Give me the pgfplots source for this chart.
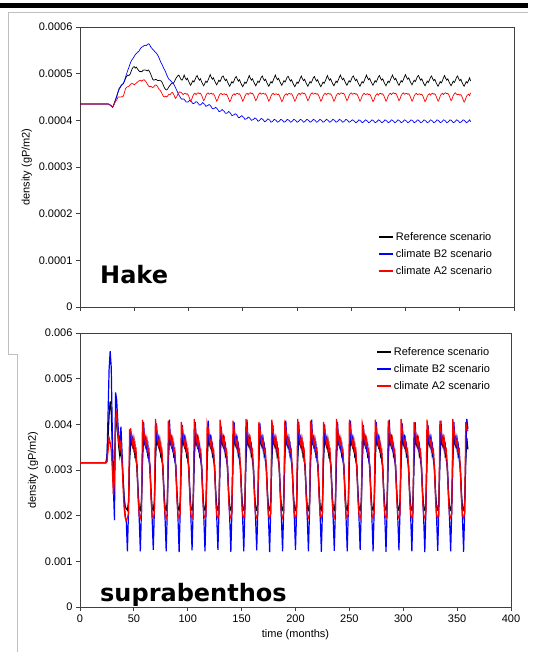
\documentclass[border=0pt]{standalone}
\usepackage{fontspec}
\setmainfont{Liberation Sans}
\newfontfamily\bigfont{DejaVu Sans}
\usepackage{pgfplots}
\usepackage{pgfplotstable}
\pgfplotsset{compat=1.18}

% Hake density, monthly, in units of 1e-4 gP/m2
\pgfplotstableread{
t ref b2 a2
0 4.35 4.35 4.35
26 4.35 4.35 4.35
27 4.34 4.34 4.34
28 4.32 4.33 4.32
29 4.30 4.31 4.30
30 4.28 4.28 4.28
31 4.33 4.32 4.32
32 4.40 4.38 4.37
33 4.46 4.45 4.42
34 4.53 4.52 4.44
35 4.60 4.60 4.50
36 4.68 4.66 4.50
37 4.71 4.70 4.50
38 4.75 4.74 4.50
39 4.77 4.77 4.51
40 4.79 4.79 4.52
41 4.84 4.85 4.60
42 4.90 4.93 4.68
43 4.94 5.00 4.71
44 4.97 5.07 4.72
45 4.96 5.13 4.73
46 4.98 5.20 4.76
47 5.04 5.26 4.78
48 5.10 5.30 4.79
49 5.14 5.33 4.78
50 5.15 5.37 4.76
51 5.12 5.41 4.78
52 5.14 5.43 4.80
53 5.10 5.46 4.82
54 5.07 5.47 4.84
55 5.04 5.51 4.85
56 5.05 5.55 4.86
57 5.04 5.57 4.84
58 5.07 5.58 4.86
59 5.08 5.60 4.87
60 5.08 5.61 4.85
61 5.07 5.60 4.82
62 5.06 5.62 4.78
63 5.08 5.64 4.74
64 5.05 5.63 4.72
65 5.00 5.58 4.73
66 4.94 5.55 4.72
67 4.88 5.52 4.70
68 4.86 5.50 4.72
69 4.87 5.47 4.75
70 4.88 5.45 4.76
71 4.86 5.42 4.74
72 4.85 5.38 4.70
73 4.86 5.33 4.66
74 4.85 5.27 4.64
75 4.84 5.22 4.60
76 4.80 5.18 4.55
77 4.74 5.12 4.51
78 4.69 5.08 4.50
79 4.66 5.03 4.52
80 4.65 4.97 4.50
81 4.68 4.92 4.53
82 4.72 4.88 4.56
83 4.75 4.86 4.55
84 4.78 4.84 4.58
85 4.80 4.81 4.60
86 4.79 4.79 4.57
87 4.83 4.75 4.52
88 4.88 4.70 4.47
89 4.92 4.65 4.50
90 4.95 4.60 4.55
91 4.97 4.55 4.59
92 4.93 4.51 4.61
93 4.88 4.47 4.60
94 4.86 4.45 4.58
95 4.90 4.46 4.55
96 4.97 4.45 4.57
97 4.91 4.42 4.58
98 4.87 4.39 4.56
99 4.90 4.39 4.57
100 4.84 4.40 4.53
101 4.79 4.43 4.47
102 4.75 4.42 4.41
103 4.80 4.39 4.45
104 4.85 4.36 4.52
105 4.82 4.36 4.56
106 4.87 4.38 4.58
107 4.93 4.40 4.55
108 4.96 4.39 4.58
109 4.90 4.36 4.59
110 4.86 4.33 4.57
111 4.89 4.33 4.58
112 4.83 4.35 4.54
113 4.78 4.38 4.48
114 4.74 4.36 4.42
115 4.79 4.34 4.46
116 4.84 4.30 4.53
117 4.81 4.31 4.57
118 4.86 4.32 4.59
119 4.92 4.34 4.56
120 4.98 4.32 4.57
121 4.92 4.29 4.58
122 4.88 4.25 4.56
123 4.91 4.25 4.57
124 4.85 4.26 4.53
125 4.80 4.28 4.47
126 4.76 4.26 4.41
127 4.81 4.23 4.45
128 4.86 4.19 4.52
129 4.83 4.19 4.56
130 4.88 4.21 4.58
131 4.94 4.23 4.55
132 4.95 4.21 4.56
133 4.89 4.19 4.57
134 4.85 4.15 4.55
135 4.88 4.15 4.56
136 4.82 4.16 4.52
137 4.77 4.19 4.46
138 4.73 4.17 4.40
139 4.78 4.14 4.44
140 4.83 4.10 4.51
141 4.80 4.11 4.55
142 4.85 4.12 4.57
143 4.91 4.14 4.54
144 4.94 4.13 4.57
145 4.88 4.10 4.58
146 4.84 4.06 4.56
147 4.87 4.06 4.57
148 4.81 4.08 4.53
149 4.76 4.10 4.47
150 4.72 4.08 4.41
151 4.77 4.06 4.45
152 4.82 4.02 4.52
153 4.79 4.03 4.56
154 4.84 4.04 4.58
155 4.90 4.07 4.55
156 4.96 4.06 4.58
157 4.90 4.03 4.59
158 4.86 4.00 4.57
159 4.89 4.01 4.58
160 4.83 4.02 4.54
161 4.78 4.05 4.48
162 4.74 4.04 4.42
163 4.79 4.02 4.46
164 4.84 3.98 4.53
165 4.81 3.99 4.57
166 4.86 4.01 4.59
167 4.92 4.04 4.56
168 4.95 4.03 4.57
169 4.89 4.01 4.58
170 4.85 3.97 4.56
171 4.88 3.98 4.57
172 4.82 4.00 4.53
173 4.77 4.03 4.47
174 4.73 4.02 4.41
175 4.78 4.00 4.45
176 4.83 3.96 4.52
177 4.80 3.97 4.56
178 4.85 3.99 4.58
179 4.91 4.02 4.55
180 4.97 4.01 4.56
181 4.91 3.99 4.57
182 4.87 3.96 4.55
183 4.90 3.97 4.56
184 4.84 3.99 4.52
185 4.79 4.02 4.46
186 4.75 4.01 4.40
187 4.80 3.99 4.44
188 4.85 3.96 4.51
189 4.82 3.97 4.55
190 4.87 3.99 4.57
191 4.93 4.02 4.54
192 4.94 4.01 4.57
193 4.88 3.99 4.58
194 4.84 3.96 4.56
195 4.87 3.97 4.57
196 4.81 3.99 4.53
197 4.76 4.02 4.47
198 4.72 4.01 4.41
199 4.77 3.99 4.45
200 4.82 3.96 4.52
201 4.79 3.97 4.56
202 4.84 3.99 4.58
203 4.90 4.02 4.55
204 4.95 4.01 4.58
205 4.89 3.99 4.59
206 4.85 3.96 4.57
207 4.88 3.97 4.58
208 4.82 3.99 4.54
209 4.77 4.02 4.48
210 4.73 4.01 4.42
211 4.78 3.99 4.46
212 4.83 3.96 4.53
213 4.80 3.97 4.57
214 4.85 3.99 4.59
215 4.91 4.02 4.56
216 4.94 4.01 4.57
217 4.88 3.99 4.58
218 4.84 3.96 4.56
219 4.87 3.97 4.57
220 4.81 3.99 4.53
221 4.76 4.02 4.47
222 4.72 4.01 4.41
223 4.77 3.99 4.45
224 4.82 3.96 4.52
225 4.79 3.97 4.56
226 4.84 3.99 4.58
227 4.90 4.02 4.55
228 4.96 4.01 4.57
229 4.90 3.99 4.58
230 4.86 3.96 4.56
231 4.89 3.97 4.57
232 4.83 3.99 4.53
233 4.78 4.02 4.47
234 4.74 4.01 4.41
235 4.79 3.99 4.45
236 4.84 3.96 4.52
237 4.81 3.97 4.56
238 4.86 3.99 4.58
239 4.92 4.02 4.55
240 4.97 4.01 4.58
241 4.91 3.99 4.59
242 4.87 3.96 4.57
243 4.90 3.97 4.58
244 4.84 3.99 4.54
245 4.79 4.02 4.48
246 4.75 4.01 4.42
247 4.80 3.99 4.46
248 4.85 3.96 4.53
249 4.82 3.97 4.57
250 4.87 3.99 4.59
251 4.93 4.01 4.56
252 4.95 4.00 4.57
253 4.89 3.98 4.58
254 4.85 3.95 4.56
255 4.88 3.96 4.57
256 4.82 3.98 4.53
257 4.77 4.01 4.47
258 4.73 4.00 4.41
259 4.78 3.98 4.45
260 4.83 3.95 4.52
261 4.80 3.96 4.56
262 4.85 3.98 4.58
263 4.91 4.01 4.55
264 4.97 4.00 4.56
265 4.91 3.98 4.57
266 4.87 3.95 4.55
267 4.90 3.96 4.56
268 4.84 3.98 4.52
269 4.79 4.01 4.46
270 4.75 4.00 4.40
271 4.80 3.98 4.44
272 4.85 3.95 4.51
273 4.82 3.96 4.55
274 4.87 3.98 4.57
275 4.93 4.01 4.54
276 4.96 4.00 4.57
277 4.90 3.98 4.58
278 4.86 3.95 4.56
279 4.89 3.96 4.57
280 4.83 3.98 4.53
281 4.78 4.01 4.47
282 4.74 4.00 4.41
283 4.79 3.98 4.45
284 4.84 3.95 4.52
285 4.81 3.96 4.56
286 4.86 3.98 4.58
287 4.92 4.01 4.55
288 4.97 4.00 4.58
289 4.91 3.98 4.59
290 4.87 3.95 4.57
291 4.90 3.96 4.58
292 4.84 3.98 4.54
293 4.79 4.01 4.48
294 4.75 4.00 4.42
295 4.80 3.98 4.46
296 4.85 3.95 4.53
297 4.82 3.96 4.57
298 4.87 3.98 4.59
299 4.93 4.01 4.56
300 4.98 4.00 4.57
301 4.92 3.98 4.58
302 4.88 3.95 4.56
303 4.91 3.96 4.57
304 4.85 3.98 4.53
305 4.80 4.01 4.47
306 4.76 4.00 4.41
307 4.81 3.98 4.45
308 4.86 3.95 4.52
309 4.83 3.96 4.56
310 4.88 3.98 4.58
311 4.94 4.01 4.55
312 4.96 4.00 4.56
313 4.90 3.98 4.57
314 4.86 3.95 4.55
315 4.89 3.96 4.56
316 4.83 3.98 4.52
317 4.78 4.01 4.46
318 4.74 4.00 4.40
319 4.79 3.98 4.44
320 4.84 3.95 4.51
321 4.81 3.96 4.55
322 4.86 3.98 4.57
323 4.92 4.01 4.54
324 4.95 4.00 4.57
325 4.89 3.98 4.58
326 4.85 3.95 4.56
327 4.88 3.96 4.57
328 4.82 3.98 4.53
329 4.77 4.01 4.47
330 4.73 4.00 4.41
331 4.78 3.98 4.45
332 4.83 3.95 4.52
333 4.80 3.96 4.56
334 4.85 3.98 4.58
335 4.91 4.01 4.55
336 4.96 4.00 4.58
337 4.90 3.98 4.59
338 4.86 3.95 4.57
339 4.89 3.96 4.58
340 4.83 3.98 4.54
341 4.78 4.01 4.48
342 4.74 4.00 4.42
343 4.79 3.98 4.46
344 4.84 3.95 4.53
345 4.81 3.96 4.57
346 4.86 3.98 4.59
347 4.92 4.01 4.56
348 4.95 4.00 4.55
349 4.89 3.98 4.56
350 4.85 3.95 4.54
351 4.88 3.96 4.55
352 4.82 3.98 4.51
353 4.77 4.01 4.45
354 4.73 4.00 4.39
355 4.78 3.98 4.43
356 4.83 3.95 4.50
357 4.80 3.96 4.54
358 4.85 3.98 4.56
359 4.91 4.01 4.53
360 4.84 3.97 4.59
}\hake

% suprabenthos density, monthly, in units of 1e-3 gP/m2
\pgfplotstableread{
t ref b2 a2
0 3.16 3.16 3.16
24 3.16 3.16 3.16
25 3.30 3.20 3.18
26 3.70 4.20 3.40
27 4.20 5.20 3.70
28 4.50 5.60 3.60
29 4.30 5.25 3.45
30 3.50 3.80 3.00
31 2.90 2.60 2.45
32 3.10 1.90 2.80
33 3.95 4.70 4.10
34 4.05 4.55 4.30
35 3.80 4.10 3.85
36 3.50 3.70 3.60
37 3.30 3.60 3.45
38 3.45 3.95 3.65
39 3.20 3.40 3.20
40 2.80 2.80 2.60
41 2.40 2.30 2.15
42 2.20 2.00 1.95
43 2.15 1.85 1.90
44 2.12 1.22 1.95
45 2.30 2.10 2.05
46 3.20 3.30 3.88
47 3.60 3.85 3.90
48 3.58 3.62 3.72
49 3.50 3.72 3.55
50 3.62 3.45 3.68
51 3.30 3.55 3.40
52 3.35 3.20 3.45
53 2.95 3.10 3.00
54 2.50 2.45 2.35
55 2.15 1.90 2.00
56 2.12 1.22 1.95
57 2.30 2.10 2.05
58 3.20 3.30 4.10
59 3.72 4.05 3.90
60 3.58 3.62 3.72
61 3.50 3.72 3.55
62 3.62 3.45 3.68
63 3.30 3.55 3.40
64 3.35 3.20 3.45
65 2.95 3.10 3.00
66 2.50 2.45 2.35
67 2.15 1.90 2.00
68 2.12 1.25 1.95
69 2.30 2.10 2.05
70 3.20 3.30 4.12
71 3.70 4.02 3.90
72 3.58 3.62 3.72
73 3.50 3.72 3.55
74 3.62 3.45 3.68
75 3.30 3.55 3.40
76 3.35 3.20 3.45
77 2.95 3.10 3.00
78 2.50 2.45 2.35
79 2.15 1.90 2.00
80 2.12 1.22 1.95
81 2.30 2.10 2.05
82 3.20 3.30 4.08
83 3.68 4.10 3.90
84 3.58 3.62 3.72
85 3.50 3.72 3.55
86 3.62 3.45 3.68
87 3.30 3.55 3.40
88 3.35 3.20 3.45
89 2.95 3.10 3.00
90 2.50 2.45 2.35
91 2.15 1.90 2.00
92 2.12 1.20 1.95
93 2.30 2.10 2.05
94 3.20 3.30 4.05
95 3.72 3.98 3.90
96 3.58 3.62 3.72
97 3.50 3.72 3.55
98 3.62 3.45 3.68
99 3.30 3.55 3.40
100 3.35 3.20 3.45
101 2.95 3.10 3.00
102 2.50 2.45 2.35
103 2.15 1.90 2.00
104 2.12 1.24 1.95
105 2.30 2.10 2.05
106 3.20 3.30 4.12
107 3.70 4.05 3.90
108 3.58 3.62 3.72
109 3.50 3.72 3.55
110 3.62 3.45 3.68
111 3.30 3.55 3.40
112 3.35 3.20 3.45
113 2.95 3.10 3.00
114 2.50 2.45 2.35
115 2.15 1.90 2.00
116 2.12 1.22 1.95
117 2.30 2.10 2.05
118 3.20 3.30 4.02
119 3.65 4.08 3.90
120 3.58 3.62 3.72
121 3.50 3.72 3.55
122 3.62 3.45 3.68
123 3.30 3.55 3.40
124 3.35 3.20 3.45
125 2.95 3.10 3.00
126 2.50 2.45 2.35
127 2.15 1.90 2.00
128 2.12 1.25 1.95
129 2.30 2.10 2.05
130 3.20 3.30 4.10
131 3.72 3.95 3.90
132 3.58 3.62 3.72
133 3.50 3.72 3.55
134 3.62 3.45 3.68
135 3.30 3.55 3.40
136 3.35 3.20 3.45
137 2.95 3.10 3.00
138 2.50 2.45 2.35
139 2.15 1.90 2.00
140 2.12 1.21 1.95
141 2.30 2.10 2.05
142 3.20 3.30 4.08
143 3.70 4.05 3.90
144 3.58 3.62 3.72
145 3.50 3.72 3.55
146 3.62 3.45 3.68
147 3.30 3.55 3.40
148 3.35 3.20 3.45
149 2.95 3.10 3.00
150 2.50 2.45 2.35
151 2.15 1.90 2.00
152 2.12 1.22 1.95
153 2.30 2.10 2.05
154 3.20 3.30 4.12
155 3.68 4.10 3.90
156 3.58 3.62 3.72
157 3.50 3.72 3.55
158 3.62 3.45 3.68
159 3.30 3.55 3.40
160 3.35 3.20 3.45
161 2.95 3.10 3.00
162 2.50 2.45 2.35
163 2.15 1.90 2.00
164 2.12 1.24 1.95
165 2.30 2.10 2.05
166 3.20 3.30 4.05
167 3.72 4.02 3.90
168 3.58 3.62 3.72
169 3.50 3.72 3.55
170 3.62 3.45 3.68
171 3.30 3.55 3.40
172 3.35 3.20 3.45
173 2.95 3.10 3.00
174 2.50 2.45 2.35
175 2.15 1.90 2.00
176 2.12 1.20 1.95
177 2.30 2.10 2.05
178 3.20 3.30 4.10
179 3.66 3.98 3.90
180 3.58 3.62 3.72
181 3.50 3.72 3.55
182 3.62 3.45 3.68
183 3.30 3.55 3.40
184 3.35 3.20 3.45
185 2.95 3.10 3.00
186 2.50 2.45 2.35
187 2.15 1.90 2.00
188 2.12 1.22 1.95
189 2.30 2.10 2.05
190 3.20 3.30 4.00
191 3.70 4.08 3.90
192 3.58 3.62 3.72
193 3.50 3.72 3.55
194 3.62 3.45 3.68
195 3.30 3.55 3.40
196 3.35 3.20 3.45
197 2.95 3.10 3.00
198 2.50 2.45 2.35
199 2.15 1.90 2.00
200 2.12 1.25 1.95
201 2.30 2.10 2.05
202 3.20 3.30 4.12
203 3.72 4.05 3.90
204 3.58 3.62 3.72
205 3.50 3.72 3.55
206 3.62 3.45 3.68
207 3.30 3.55 3.40
208 3.35 3.20 3.45
209 2.95 3.10 3.00
210 2.50 2.45 2.35
211 2.15 1.90 2.00
212 2.12 1.22 1.95
213 2.30 2.10 2.05
214 3.20 3.30 4.08
215 3.68 4.10 3.90
216 3.58 3.62 3.72
217 3.50 3.72 3.55
218 3.62 3.45 3.68
219 3.30 3.55 3.40
220 3.35 3.20 3.45
221 2.95 3.10 3.00
222 2.50 2.45 2.35
223 2.15 1.90 2.00
224 2.12 1.21 1.95
225 2.30 2.10 2.05
226 3.20 3.30 4.05
227 3.70 4.00 3.90
228 3.58 3.62 3.72
229 3.50 3.72 3.55
230 3.62 3.45 3.68
231 3.30 3.55 3.40
232 3.35 3.20 3.45
233 2.95 3.10 3.00
234 2.50 2.45 2.35
235 2.15 1.90 2.00
236 2.12 1.23 1.95
237 2.30 2.10 2.05
238 3.20 3.30 4.12
239 3.72 4.05 3.90
240 3.58 3.62 3.72
241 3.50 3.72 3.55
242 3.62 3.45 3.68
243 3.30 3.55 3.40
244 3.35 3.20 3.45
245 2.95 3.10 3.00
246 2.50 2.45 2.35
247 2.15 1.90 2.00
248 2.12 1.22 1.95
249 2.30 2.10 2.05
250 3.20 3.30 4.10
251 3.65 4.08 3.90
252 3.58 3.62 3.72
253 3.50 3.72 3.55
254 3.62 3.45 3.68
255 3.30 3.55 3.40
256 3.35 3.20 3.45
257 2.95 3.10 3.00
258 2.50 2.45 2.35
259 2.15 1.90 2.00
260 2.12 1.25 1.95
261 2.30 2.10 2.05
262 3.20 3.30 4.02
263 3.70 3.98 3.90
264 3.58 3.62 3.72
265 3.50 3.72 3.55
266 3.62 3.45 3.68
267 3.30 3.55 3.40
268 3.35 3.20 3.45
269 2.95 3.10 3.00
270 2.50 2.45 2.35
271 2.15 1.90 2.00
272 2.12 1.22 1.95
273 2.30 2.10 2.05
274 3.20 3.30 4.10
275 3.72 4.05 3.90
276 3.58 3.62 3.72
277 3.50 3.72 3.55
278 3.62 3.45 3.68
279 3.30 3.55 3.40
280 3.35 3.20 3.45
281 2.95 3.10 3.00
282 2.50 2.45 2.35
283 2.15 1.90 2.00
284 2.12 1.21 1.95
285 2.30 2.10 2.05
286 3.20 3.30 4.08
287 3.68 4.10 3.90
288 3.58 3.62 3.72
289 3.50 3.72 3.55
290 3.62 3.45 3.68
291 3.30 3.55 3.40
292 3.35 3.20 3.45
293 2.95 3.10 3.00
294 2.50 2.45 2.35
295 2.15 1.90 2.00
296 2.12 1.24 1.95
297 2.30 2.10 2.05
298 3.20 3.30 4.12
299 3.70 4.02 3.90
300 3.58 3.62 3.72
301 3.50 3.72 3.55
302 3.62 3.45 3.68
303 3.30 3.55 3.40
304 3.35 3.20 3.45
305 2.95 3.10 3.00
306 2.50 2.45 2.35
307 2.15 1.90 2.00
308 2.12 1.22 1.95
309 2.30 2.10 2.05
310 3.20 3.30 4.05
311 3.72 4.05 3.90
312 3.58 3.62 3.72
313 3.50 3.72 3.55
314 3.62 3.45 3.68
315 3.30 3.55 3.40
316 3.35 3.20 3.45
317 2.95 3.10 3.00
318 2.50 2.45 2.35
319 2.15 1.90 2.00
320 2.12 1.20 1.95
321 2.30 2.10 2.05
322 3.20 3.30 4.10
323 3.66 3.98 3.90
324 3.58 3.62 3.72
325 3.50 3.72 3.55
326 3.62 3.45 3.68
327 3.30 3.55 3.40
328 3.35 3.20 3.45
329 2.95 3.10 3.00
330 2.50 2.45 2.35
331 2.15 1.90 2.00
332 2.12 1.23 1.95
333 2.30 2.10 2.05
334 3.20 3.30 4.08
335 3.70 4.08 3.90
336 3.58 3.62 3.72
337 3.50 3.72 3.55
338 3.62 3.45 3.68
339 3.30 3.55 3.40
340 3.35 3.20 3.45
341 2.95 3.10 3.00
342 2.50 2.45 2.35
343 2.15 1.90 2.00
344 2.12 1.22 1.95
345 2.30 2.10 2.05
346 3.20 3.30 4.12
347 3.72 4.05 3.90
348 3.58 3.62 3.72
349 3.50 3.72 3.55
350 3.62 3.45 3.68
351 3.30 3.55 3.40
352 3.35 3.20 3.45
353 2.95 3.10 3.00
354 2.50 2.45 2.35
355 2.15 1.90 2.00
356 2.12 1.21 1.95
357 2.30 2.10 2.05
358 3.20 3.30 4.05
359 3.70 4.12 3.90
360 3.45 3.90 3.85
}\supra

\pgfplotsset{
  panel/.style={
    scale only axis, anchor=south west,
    xmin=0, xmax=400, ymin=0, ymax=6,
    xtick={0,50,...,400}, ytick={0,1,...,6},
    tick align=outside, xtick pos=lower, ytick pos=left,
    major tick length=4pt,
    axis line style={black!75, line width=0.8pt},
    every tick/.style={black!75, line width=0.8pt},
    /pgf/number format/assume math mode=true,
    tick label style={font=\fontsize{11}{13}\selectfont},
    label style={font=\fontsize{11}{13}\selectfont},
    ylabel={density (gP/m2)},
    legend style={draw=none, fill=none, anchor=north west, inner sep=0pt,
      row sep=3.5pt, font=\fontsize{11}{13}\selectfont},
    legend cell align=left,
    legend image code/.code={\draw[line width=1.6pt] (0pt,0pt) -- (14pt,0pt);},
  },
}

\begin{document}
\begin{tikzpicture}[x=1pt, y=1pt]
\useasboundingbox (0,0) rectangle (541,652);
% frame pieces of the pasted figure
\fill[black] (0,644) rectangle (528,648.5);
\draw[black!25, line width=0.8pt] (528,640) -- (8,640) -- (8,298) -- (17,298) -- (17,0);

% ---- Hake ----
\begin{axis}[panel, at={(80pt,345pt)}, width=434pt, height=280pt,
  xticklabels={}, yticklabels={0,0.0001,0.0002,0.0003,0.0004,0.0005,0.0006},
  legend style={at={(0.687,0.275)}}]
\addplot[color=black, line width=0.7pt] table[x=t, y=ref] {\hake};
\addplot[color=blue, line width=0.7pt] table[x=t, y=b2] {\hake};
\addplot[color=red, line width=0.7pt] table[x=t, y=a2] {\hake};
\legend{Reference scenario, climate B2 scenario, climate A2 scenario}
\end{axis}

% ---- suprabenthos ----
\begin{axis}[panel, at={(80pt,45pt)}, width=431pt, height=274pt,
  yticklabels={0,0.001,0.002,0.003,0.004,0.005,0.006},
  xlabel={time (months)},
  legend style={at={(0.687,0.955)}}]
\addplot[color=black, line width=1.2pt] table[x=t, y=ref] {\supra};
\addplot[color=blue, line width=1.2pt] table[x=t, y=b2] {\supra};
\addplot[color=red, line width=1.2pt] table[x=t, y=a2] {\supra};
\legend{Reference scenario, climate B2 scenario, climate A2 scenario}
\end{axis}

\node[anchor=base west, inner sep=0pt, font=\bigfont\bfseries\fontsize{24}{28}\selectfont] at (100,368) {Hake};
\node[anchor=base west, inner sep=0pt, font=\bigfont\bfseries\fontsize{24}{28}\selectfont] at (100,50) {suprabenthos};
\end{tikzpicture}
\end{document}
